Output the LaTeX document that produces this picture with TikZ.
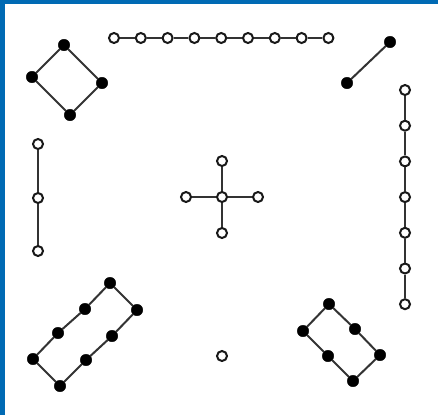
\documentclass[tikz,border=0pt]{standalone}
\definecolor{frameblue}{RGB}{0,106,180}
\tikzset{
  full/.style={circle,fill=black,draw=black,inner sep=0pt,minimum size=11.5pt},
  open/.style={circle,fill=white,draw=black!90,line width=2pt,inner sep=0pt,minimum size=10pt},
  edge/.style={line width=2pt,draw=black!80}
}
\begin{document}
\begin{tikzpicture}[x=1pt,y=-1pt]
\useasboundingbox (0,0) rectangle (438,415);
\fill[white] (0,0) rectangle (438,415);
\fill[frameblue] (0,0) rectangle (5,415);
\fill[frameblue] (0,0) rectangle (438,4);
% diamond
\node[full] (d1) at (64,45) {};
\node[full] (d2) at (32,77) {};
\node[full] (d3) at (102,83) {};
\node[full] (d4) at (70,115) {};
\draw[edge] (d1) -- (d2) -- (d4) -- (d3) -- (d1);
% top chain
\foreach \i in {0,...,8} {
  \node[open] (t\i) at ({114+\i*26.8},38) {};
}
\foreach \i [evaluate=\i as \j using int(\i+1)] in {0,...,7} {
  \draw[edge] (t\i) -- (t\j);
}
% top right segment
\node[full] (s1) at (390,42) {};
\node[full] (s2) at (347,83) {};
\draw[edge] (s1) -- (s2);
% right vertical chain
\foreach \i in {0,...,6} {
  \node[open] (r\i) at (405,{90+\i*35.7}) {};
}
\foreach \i [evaluate=\i as \j using int(\i+1)] in {0,...,5} {
  \draw[edge] (r\i) -- (r\j);
}
% left vertical chain
\node[open] (l1) at (38,144) {};
\node[open] (l2) at (38,198) {};
\node[open] (l3) at (38,251) {};
\draw[edge] (l1) -- (l2) -- (l3);
% cross
\node[open] (c0) at (222,197) {};
\node[open] (cn) at (222,161) {};
\node[open] (cs) at (222,233) {};
\node[open] (cw) at (186,197) {};
\node[open] (ce) at (258,197) {};
\draw[edge] (c0) -- (cn);
\draw[edge] (c0) -- (cs);
\draw[edge] (c0) -- (cw);
\draw[edge] (c0) -- (ce);
% bottom-left rectangle
\node[full] (a1) at (110,283) {};
\node[full] (a2) at (85,309) {};
\node[full] (a3) at (58,333) {};
\node[full] (a4) at (33,359) {};
\node[full] (a5) at (60,386) {};
\node[full] (a6) at (86,360) {};
\node[full] (a7) at (112,336) {};
\node[full] (a8) at (137,310) {};
\draw[edge] (a1) -- (a2) -- (a3) -- (a4) -- (a5) -- (a6) -- (a7) -- (a8) -- (a1);
% bottom-right rectangle
\node[full] (b1) at (329,304) {};
\node[full] (b2) at (355,329) {};
\node[full] (b3) at (380,355) {};
\node[full] (b4) at (353,381) {};
\node[full] (b5) at (328,356) {};
\node[full] (b6) at (303,331) {};
\draw[edge] (b1) -- (b2) -- (b3) -- (b4) -- (b5) -- (b6) -- (b1);
% isolated
\node[open] (iso) at (222,356) {};
\end{tikzpicture}
\end{document}
